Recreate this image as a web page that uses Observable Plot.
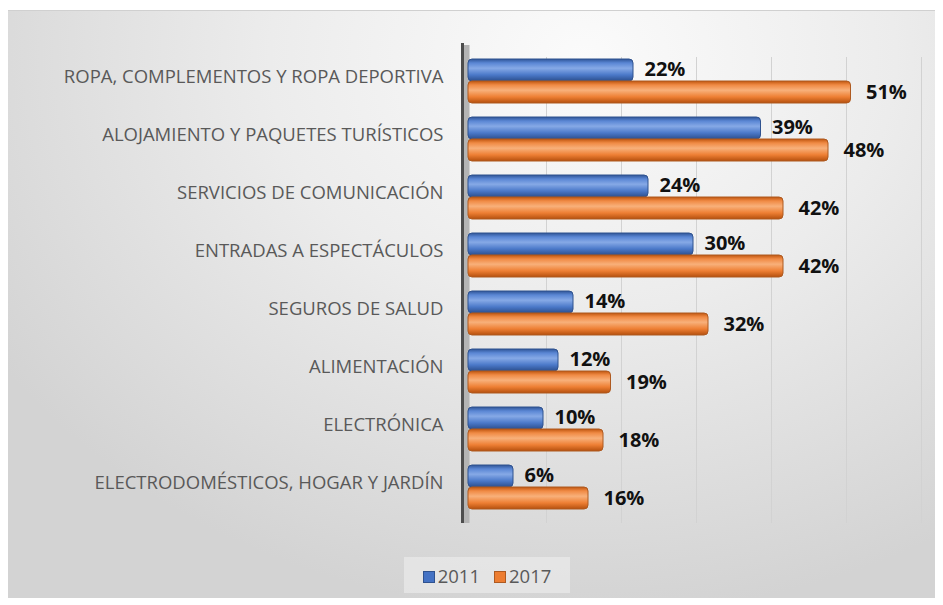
<!DOCTYPE html>
<html>
<head>
<meta charset="utf-8">
<script src="https://cdn.jsdelivr.net/npm/d3@7"></script>
<script src="https://cdn.jsdelivr.net/npm/@observablehq/plot@0.6"></script>
<style>
  html, body { margin: 0; padding: 0; background: #ffffff; }
  #box {
    position: absolute; left: 8px; top: 10px; width: 927px; height: 588px;
    background: radial-gradient(ellipse 75% 95% at 62% 8%, #fbfbfb 0%, #ececec 45%, #d3d3d3 100%);
    border-top: 1px solid #d0d0d0;
    box-sizing: border-box;
    overflow: hidden;
  }
  #chart { position: absolute; left: 0; top: 0; }
  #legend {
    position: absolute; left: 396px; top: 546px; width: 166px; height: 36px;
    background: rgba(240,240,240,0.55);
    font-family: "Open Sans", sans-serif; font-size: 18.5px; color: #595959;
    display: flex; align-items: center; justify-content: center; gap: 14px;
  }
  .sw { display: inline-block; width: 12px; height: 12px; margin-right: 3px; vertical-align: 0px; box-sizing: border-box; }
</style>
</head>
<body>
<div id="box">
  <div id="chart"></div>
  <div id="legend">
    <span><span class="sw" style="background:#4472c4;border:1px solid #2f528f"></span>2011</span>
    <span><span class="sw" style="background:#ed7d31;border:1px solid #ae5a21"></span>2017</span>
  </div>
</div>
<script>
const categories = [
  "ROPA, COMPLEMENTOS Y ROPA DEPORTIVA",
  "ALOJAMIENTO Y PAQUETES TURÍSTICOS",
  "SERVICIOS DE COMUNICACIÓN",
  "ENTRADAS A ESPECTÁCULOS",
  "SEGUROS DE SALUD",
  "ALIMENTACIÓN",
  "ELECTRÓNICA",
  "ELECTRODOMÉSTICOS, HOGAR Y JARDÍN"
];
const values2011 = [22, 39, 24, 30, 14, 12, 10, 6];
const values2017 = [51, 48, 42, 42, 32, 19, 18, 16];
const gridTicks = [10, 20, 30, 40, 50, 60];

const rows2011 = categories.map((c, i) => ({category: c, value: values2011[i]}));
const rows2017 = categories.map((c, i) => ({category: c, value: values2017[i]}));

const plot = Plot.plot({
  width: 927,
  height: 545,
  marginLeft: 460,
  marginRight: 17,
  marginTop: 34,
  marginBottom: 33,
  style: {background: "transparent", fontFamily: "Open Sans, sans-serif"},
  x: {domain: [0, 60], axis: null},
  y: {domain: categories, padding: 0.24, label: null},
  marks: [
    Plot.gridX(gridTicks, {stroke: "#d2d2d2", strokeOpacity: 1, strokeWidth: 1, dx: 3, insetTop: 12}),
    Plot.ruleX([0], {stroke: "#b4b4b4", strokeWidth: 6, dx: -2}),
    Plot.ruleX([0], {stroke: "#4d4d4d", strokeWidth: 3, dx: -6, insetTop: -2}),
    Plot.axisY({tickSize: 0, tickPadding: 25, fontSize: 18.5, fill: "#595959", dy: -4}),
    Plot.barX(rows2011, {x: "value", y: "category", insetBottom: 22, fill: "url(#gBlue)", stroke: "#2f528f", strokeWidth: 1, rx: 4}),
    Plot.barX(rows2017, {x: "value", y: "category", insetTop: 22, fill: "url(#gOrange)", stroke: "#ae5a21", strokeWidth: 1, rx: 4}),
    Plot.text(rows2011, {x: "value", y: "category", text: d => d.value + "%", dy: -12, dx: 11, textAnchor: "start", fontSize: 20, fontWeight: "bold", fill: "#111"}),
    Plot.text(rows2017, {x: "value", y: "category", text: d => d.value + "%", dy: 11, dx: 15, textAnchor: "start", fontSize: 20, fontWeight: "bold", fill: "#111"})
  ]
});

const svg = d3.select(plot);
const defs = svg.insert("defs", ":first-child");
function grad(id, stops) {
  const g = defs.append("linearGradient").attr("id", id).attr("x1", 0).attr("y1", 0).attr("x2", 0).attr("y2", 1);
  stops.forEach(([o, c]) => g.append("stop").attr("offset", o).attr("stop-color", c));
}
grad("gBlue", [[0, "#2f5597"], [0.18, "#5a86d4"], [0.42, "#86a9e6"], [0.72, "#4b79c9"], [1, "#2c4f8e"]]);
grad("gOrange", [[0, "#c0560f"], [0.18, "#f08a44"], [0.42, "#f8b07a"], [0.72, "#ee7f34"], [1, "#b5500e"]]);

document.getElementById("chart").appendChild(plot);
</script>
</body>
</html>
